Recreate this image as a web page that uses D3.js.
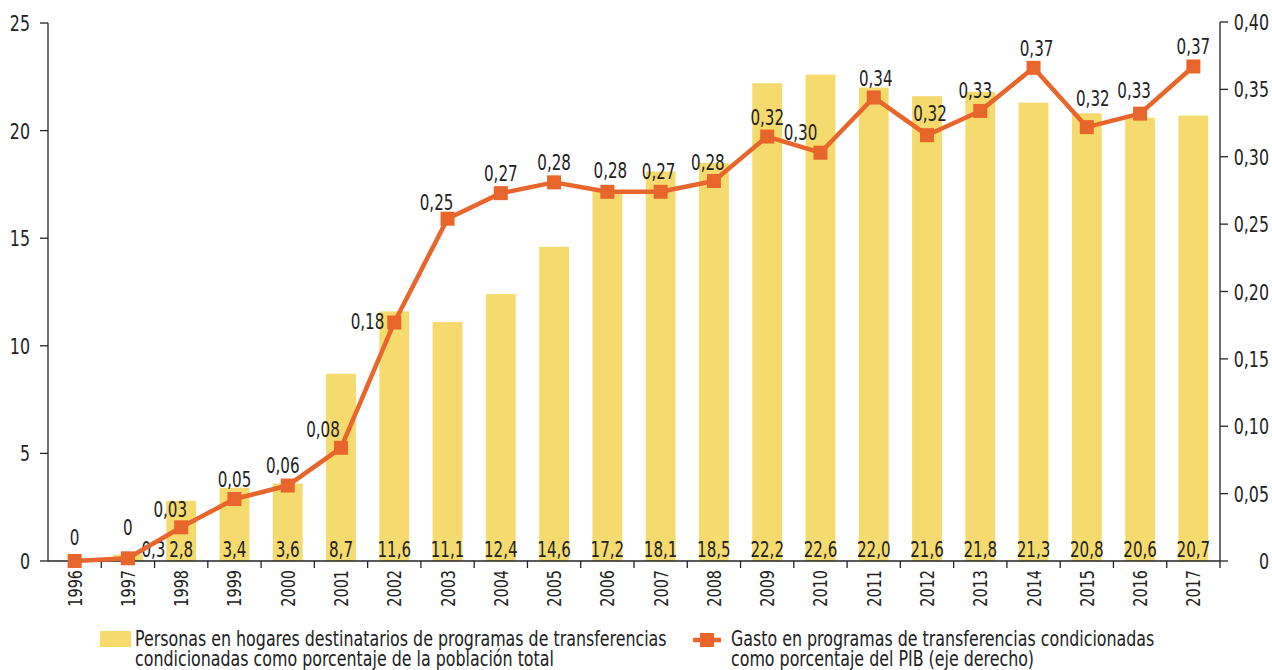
<!DOCTYPE html>
<html>
<head>
<meta charset="utf-8">
<script src="https://cdn.jsdelivr.net/npm/d3@7"></script>
<style>
  html, body { margin: 0; padding: 0; background: #fff; }
  svg { display: block; font-family: "DejaVu Sans Condensed", "Liberation Sans Narrow", sans-serif; }
</style>
</head>
<body>
<div class="graphic"><div class="graphic__vis"></div></div>
<script>
// data
var years = ['1996','1997','1998','1999','2000','2001','2002','2003','2004','2005','2006',
             '2007','2008','2009','2010','2011','2012','2013','2014','2015','2016','2017']
// personas en hogares destinatarios (% población total)
var people = [null, 0.3, 2.8, 3.4, 3.6, 8.7, 11.6, 11.1, 12.4, 14.6, 17.2,
              18.1, 18.5, 22.2, 22.6, 22.0, 21.6, 21.8, 21.3, 20.8, 20.6, 20.7]
// gasto (% PIB, eje derecho)
var spending = [0, 0.002, 0.025, 0.046, 0.056, 0.084, 0.177, 0.254, 0.273, 0.281, 0.274,
                0.274, 0.282, 0.315, 0.303, 0.344, 0.316, 0.334, 0.366, 0.322, 0.332, 0.367]
var spendingLabels = ['0','0','0,03','0,05','0,06','0,08','0,18','0,25','0,27','0,28','0,28',
                      '0,27','0,28','0,32','0,30','0,34','0,32','0,33','0,37','0,32','0,33','0,37']
var leftTicks = [0, 5, 10, 15, 20, 25]
var rightTicks = [0, 0.05, 0.10, 0.15, 0.20, 0.25, 0.30, 0.35, 0.40]
var legendBars = ['Personas en hogares destinatarios de programas de transferencias',
                  'condicionadas como porcentaje de la población total']
var legendLine = ['Gasto en programas de transferencias condicionadas',
                  'como porcentaje del PIB (eje derecho)']

var width = 1272
var height = 670
var plotL = 48, plotR = 1220, plotT = 23, plotB = 561
var barColor = '#F5DA6E'
var lineColor = '#E8652B'
var ink = '#222'
var squeeze = 0.8   // the reference uses a condensed face

var es = d3.formatLocale({decimal: ',', thousands: '.', grouping: [3], currency: ['', '']})
var fmt1 = es.format('.1f')
var fmt2 = es.format('.2f')

var svg = d3.select('.graphic__vis').append('svg')
    .attr('width', width)
    .attr('height', height)

// text drawn narrower than the font, like the condensed original
function label(g, x, y, size, str, anchor, rot, sq) {
    return g.append('text')
        .attr('transform', 'translate(' + x + ',' + y + ')' + (rot ? ' rotate(' + rot + ')' : '') +
              ' scale(' + (sq || squeeze) + ',1)')
        .attr('font-size', size)
        .attr('text-anchor', anchor || 'start')
        .attr('fill', ink)
        .text(str)
}

var x = d3.scaleBand()
    .domain(years)
    .range([plotL, plotR])
    .paddingInner(0.44)
    .paddingOuter(0.22)
var step = x.step()
var cx = function(d) { return x(d.year) + x.bandwidth() / 2 }

var yL = d3.scaleLinear().domain([0, 25]).range([plotB, plotT])
var yR = d3.scaleLinear().domain([0, 0.40]).range([plotB, plotT - 1])

var rows = years.map(function(y, i) {
    return {year: y, people: people[i], spend: spending[i], label: spendingLabels[i]}
})
var barRows = rows.filter(function(d) { return d.people != null })

// bars
svg.append('g').selectAll('rect')
    .data(barRows)
    .enter().append('rect')
    .attr('x', function(d) { return x(d.year) })
    .attr('width', x.bandwidth())
    .attr('y', function(d) { return yL(d.people) })
    .attr('height', function(d) { return yL(0) - yL(d.people) })
    .attr('fill', barColor)

// bar value labels, sitting at the foot of each bar
var barLab = svg.append('g')
barRows.forEach(function(d) {
    var px = d.people < 1 ? cx(d) + step * 0.48 : cx(d)   // tiny 1997 bar: label pushed right
    label(barLab, px, plotB - 4, 21, fmt1(d.people), 'middle')
})

// axes
var axisG = svg.append('g').attr('stroke', ink).attr('stroke-width', 1.3)
var tickLab = svg.append('g')
axisG.append('line').attr('x1', plotL).attr('x2', plotL).attr('y1', plotT).attr('y2', plotB)
axisG.append('line').attr('x1', plotR).attr('x2', plotR).attr('y1', plotT - 1).attr('y2', plotB)
axisG.append('line').attr('x1', plotL).attr('x2', plotR).attr('y1', plotB).attr('y2', plotB)

leftTicks.forEach(function(t) {
    axisG.append('line').attr('x1', plotL - 8).attr('x2', plotL).attr('y1', yL(t)).attr('y2', yL(t))
    label(tickLab, 30, yL(t) + 8, 22, String(t), 'end')
})
rightTicks.forEach(function(t) {
    axisG.append('line').attr('x1', plotR).attr('x2', plotR + 8).attr('y1', yR(t)).attr('y2', yR(t))
    label(tickLab, 1269, yR(t) + 8, 22, t === 0 ? '0' : fmt2(t), 'end')
})
// category boundary ticks
years.forEach(function(y) {
    var bx = x(y) + x.bandwidth() / 2 + step / 2
    axisG.append('line').attr('x1', bx).attr('x2', bx).attr('y1', plotB).attr('y2', plotB + 7)
})
years.forEach(function(y) {
    label(tickLab, x(y) + x.bandwidth() / 2 + 7, plotB + 9, 20, y, 'end', -90)
})

// line
var line = d3.line().x(cx).y(function(d) { return yR(d.spend) })

svg.append('path')
    .datum(rows)
    .attr('d', line)
    .attr('fill', 'none')
    .attr('stroke', lineColor)
    .attr('stroke-width', 4.5)
    .attr('stroke-linejoin', 'round')

svg.append('g').selectAll('rect')
    .data(rows)
    .enter().append('rect')
    .attr('x', function(d) { return cx(d) - 7 })
    .attr('y', function(d) { return yR(d.spend) - 7 })
    .attr('width', 14)
    .attr('height', 14)
    .attr('fill', lineColor)

// label nudges so labels clear the line
var nudge = {
    '1996': [0, -16], '1997': [0, -23], '1998': [-11, -10], '2000': [-5, -13],
    '2001': [-18, -11], '2003': [-11, -9], '2006': [3, -14], '2007': [-2, -13],
    '2008': [-6, -11], '2010': [-20, -13], '2011': [2, -11], '2012': [3, -14],
    '2013': [-5, -13], '2014': [3, -12], '2015': [6, -21], '2016': [-6, -16]
}
var lineLab = svg.append('g')
rows.forEach(function(d) {
    if (d.year === '2002') {
        label(lineLab, cx(d) - 10, yR(d.spend) + 7, 21, d.label, 'end')
        return
    }
    var n = nudge[d.year] || [0, -12]
    label(lineLab, cx(d) + n[0], yR(d.spend) + n[1], 21, d.label, 'middle')
})

// legend
var lg = svg.append('g')
lg.append('rect').attr('x', 100).attr('y', 631).attr('width', 31).attr('height', 16).attr('fill', barColor)
legendBars.forEach(function(s, i) { label(lg, 135, 646 + i * 20, 21, s, 'start', 0, 0.84) })

lg.append('line').attr('x1', 693).attr('x2', 721).attr('y1', 640).attr('y2', 640)
    .attr('stroke', lineColor).attr('stroke-width', 4.5)
lg.append('rect').attr('x', 700).attr('y', 633).attr('width', 14).attr('height', 14).attr('fill', lineColor)
legendLine.forEach(function(s, i) { label(lg, 731, 646 + i * 20, 21, s, 'start', 0, 0.84) })
</script>
</body>
</html>
